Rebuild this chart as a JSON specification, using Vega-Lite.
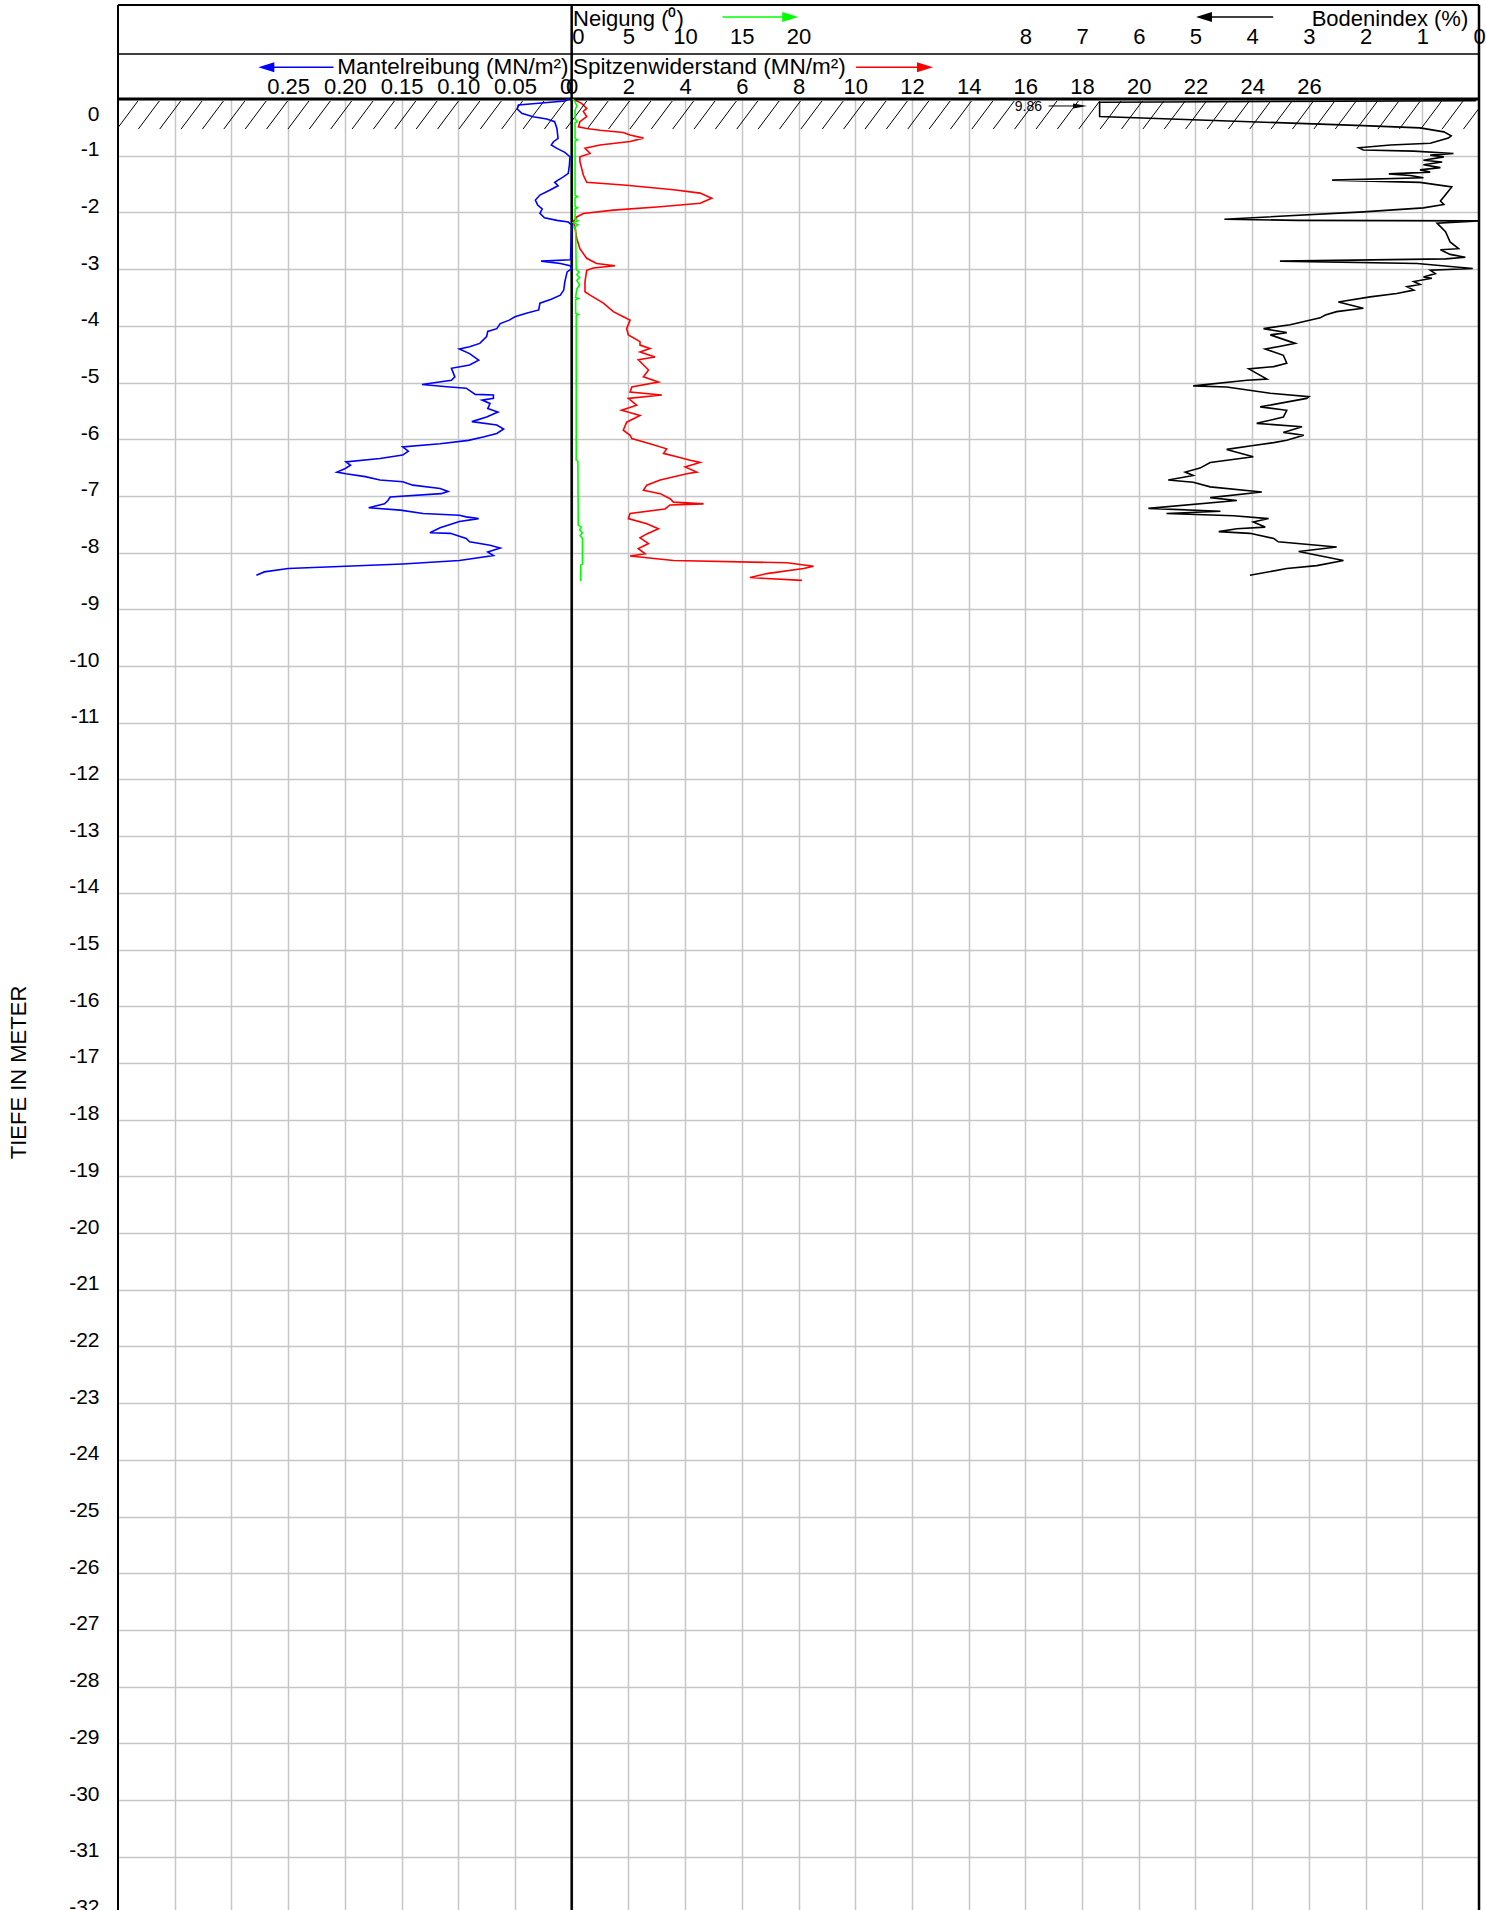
{
  "$schema": "https://vega.github.io/schema/vega-lite/v6.json",
  "width": 1361,
  "height": 1946,
  "autosize": {"type": "none"},
  "padding": {"left": 118, "top": 99, "right": 7, "bottom": 0},
  "background": "white",
  "config": {
    "font": "Liberation Sans",
    "view": {"stroke": null},
    "axis": {"labelFont": "Liberation Sans", "labelColor": "#000000", "titleFont": "Liberation Sans", "titleColor": "#000000", "domain": false, "ticks": false, "tickSize": 0, "labelFlush": false, "labelOverlap": false, "gridColor": "#c6c6c6", "gridWidth": 1.5, "gridOpacity": 1}
  },
  "datasets": {
    "one": [{}],
    "mantel": [
      {"d": 0, "m": 0.002}, {"d": -0.035, "m": 0.006}, {"d": -0.106, "m": 0.047}, {"d": -0.176, "m": 0.048}, {"d": -0.253, "m": 0.044}, {"d": -0.312, "m": 0.034}, {"d": -0.353, "m": 0.022}, {"d": -0.4, "m": 0.015}, {"d": -0.518, "m": 0.013}, {"d": -0.694, "m": 0.012}, {"d": -0.753, "m": 0.016}, {"d": -0.812, "m": 0.018}, {"d": -0.871, "m": 0.013}, {"d": -0.941, "m": 0.006}, {"d": -1.018, "m": 0.0015}, {"d": -1.165, "m": 0.002}, {"d": -1.312, "m": 0.003}, {"d": -1.37, "m": 0.007}, {"d": -1.43, "m": 0.012}, {"d": -1.47, "m": 0.015}, {"d": -1.53, "m": 0.012}, {"d": -1.606, "m": 0.019}, {"d": -1.694, "m": 0.028}, {"d": -1.782, "m": 0.032}, {"d": -1.87, "m": 0.03}, {"d": -1.94, "m": 0.026}, {"d": -2.018, "m": 0.028}, {"d": -2.094, "m": 0.024}, {"d": -2.14, "m": 0.013}, {"d": -2.17, "m": 0.003}, {"d": -2.22, "m": 0.0}, {"d": -2.58, "m": 0.0006}, {"d": -2.835, "m": 0.001}, {"d": -2.86, "m": 0.027}, {"d": -2.9, "m": 0.01}, {"d": -2.94, "m": 0.0015}, {"d": -2.99, "m": 0.0}, {"d": -3.05, "m": 0.004}, {"d": -3.22, "m": 0.006}, {"d": -3.37, "m": 0.007}, {"d": -3.46, "m": 0.01}, {"d": -3.53, "m": 0.018}, {"d": -3.6, "m": 0.028}, {"d": -3.72, "m": 0.029}, {"d": -3.78, "m": 0.04}, {"d": -3.84, "m": 0.05}, {"d": -3.9, "m": 0.055}, {"d": -3.96, "m": 0.063}, {"d": -4.05, "m": 0.066}, {"d": -4.1, "m": 0.074}, {"d": -4.19, "m": 0.075}, {"d": -4.31, "m": 0.081}, {"d": -4.37, "m": 0.09}, {"d": -4.41, "m": 0.099}, {"d": -4.49, "m": 0.09}, {"d": -4.605, "m": 0.082}, {"d": -4.69, "m": 0.09}, {"d": -4.75, "m": 0.106}, {"d": -4.9, "m": 0.103}, {"d": -4.96, "m": 0.106}, {"d": -5.035, "m": 0.132}, {"d": -5.075, "m": 0.11}, {"d": -5.1, "m": 0.093}, {"d": -5.21, "m": 0.085}, {"d": -5.22, "m": 0.069}, {"d": -5.28, "m": 0.069}, {"d": -5.31, "m": 0.079}, {"d": -5.37, "m": 0.072}, {"d": -5.46, "m": 0.074}, {"d": -5.52, "m": 0.065}, {"d": -5.61, "m": 0.075}, {"d": -5.69, "m": 0.088}, {"d": -5.75, "m": 0.066}, {"d": -5.82, "m": 0.06}, {"d": -5.9, "m": 0.066}, {"d": -5.96, "m": 0.078}, {"d": -6.02, "m": 0.091}, {"d": -6.08, "m": 0.116}, {"d": -6.135, "m": 0.149}, {"d": -6.21, "m": 0.144}, {"d": -6.28, "m": 0.149}, {"d": -6.34, "m": 0.169}, {"d": -6.4, "m": 0.199}, {"d": -6.46, "m": 0.195}, {"d": -6.52, "m": 0.2}, {"d": -6.58, "m": 0.207}, {"d": -6.61, "m": 0.199}, {"d": -6.66, "m": 0.182}, {"d": -6.72, "m": 0.169}, {"d": -6.75, "m": 0.149}, {"d": -6.81, "m": 0.14}, {"d": -6.87, "m": 0.116}, {"d": -6.92, "m": 0.109}, {"d": -6.96, "m": 0.115}, {"d": -7.02, "m": 0.16}, {"d": -7.08, "m": 0.162}, {"d": -7.14, "m": 0.165}, {"d": -7.21, "m": 0.179}, {"d": -7.25, "m": 0.151}, {"d": -7.31, "m": 0.131}, {"d": -7.34, "m": 0.099}, {"d": -7.37, "m": 0.093}, {"d": -7.4, "m": 0.082}, {"d": -7.45, "m": 0.099}, {"d": -7.56, "m": 0.116}, {"d": -7.65, "m": 0.125}, {"d": -7.66, "m": 0.107}, {"d": -7.75, "m": 0.093}, {"d": -7.81, "m": 0.09}, {"d": -7.87, "m": 0.072}, {"d": -7.92, "m": 0.063}, {"d": -7.99, "m": 0.074}, {"d": -8.05, "m": 0.069}, {"d": -8.14, "m": 0.099}, {"d": -8.2, "m": 0.149}, {"d": -8.28, "m": 0.25}, {"d": -8.34, "m": 0.271}, {"d": -8.4, "m": 0.278}
    ],
    "spitzen": [
      {"d": 0, "q": 0.1}, {"d": -0.02, "q": 0.12}, {"d": -0.076, "q": 0.35}, {"d": -0.165, "q": 0.53}, {"d": -0.22, "q": 0.41}, {"d": -0.31, "q": 0.53}, {"d": -0.4, "q": 0.29}, {"d": -0.49, "q": 0.24}, {"d": -0.52, "q": 0.53}, {"d": -0.55, "q": 1.0}, {"d": -0.59, "q": 1.82}, {"d": -0.635, "q": 2.06}, {"d": -0.69, "q": 2.53}, {"d": -0.75, "q": 2.06}, {"d": -0.81, "q": 1.0}, {"d": -0.87, "q": 0.47}, {"d": -0.96, "q": 0.65}, {"d": -1.02, "q": 0.29}, {"d": -1.1, "q": 0.29}, {"d": -1.22, "q": 0.35}, {"d": -1.34, "q": 0.41}, {"d": -1.47, "q": 0.53}, {"d": -1.52, "q": 1.94}, {"d": -1.6, "q": 3.59}, {"d": -1.66, "q": 4.53}, {"d": -1.75, "q": 4.94}, {"d": -1.84, "q": 4.53}, {"d": -1.9, "q": 3.12}, {"d": -1.96, "q": 1.47}, {"d": -2.02, "q": 0.41}, {"d": -2.08, "q": 0.18}, {"d": -2.16, "q": 0.06}, {"d": -2.28, "q": 0.12}, {"d": -2.46, "q": 0.18}, {"d": -2.64, "q": 0.29}, {"d": -2.81, "q": 0.53}, {"d": -2.9, "q": 0.88}, {"d": -2.94, "q": 1.53}, {"d": -2.98, "q": 0.76}, {"d": -3.02, "q": 0.53}, {"d": -3.22, "q": 0.47}, {"d": -3.4, "q": 0.47}, {"d": -3.46, "q": 0.65}, {"d": -3.6, "q": 1.12}, {"d": -3.75, "q": 1.47}, {"d": -3.84, "q": 1.82}, {"d": -3.9, "q": 2.06}, {"d": -4.05, "q": 1.94}, {"d": -4.16, "q": 2.0}, {"d": -4.28, "q": 2.41}, {"d": -4.34, "q": 2.41}, {"d": -4.4, "q": 2.76}, {"d": -4.46, "q": 2.41}, {"d": -4.55, "q": 2.94}, {"d": -4.6, "q": 2.35}, {"d": -4.78, "q": 2.71}, {"d": -4.9, "q": 2.53}, {"d": -4.99, "q": 3.06}, {"d": -5.08, "q": 2.12}, {"d": -5.17, "q": 2.06}, {"d": -5.22, "q": 3.18}, {"d": -5.28, "q": 2.0}, {"d": -5.4, "q": 2.29}, {"d": -5.49, "q": 1.76}, {"d": -5.58, "q": 2.41}, {"d": -5.7, "q": 1.94}, {"d": -5.84, "q": 1.82}, {"d": -5.93, "q": 2.06}, {"d": -5.99, "q": 2.12}, {"d": -6.08, "q": 2.76}, {"d": -6.17, "q": 3.35}, {"d": -6.25, "q": 3.24}, {"d": -6.31, "q": 3.71}, {"d": -6.37, "q": 4.18}, {"d": -6.41, "q": 4.53}, {"d": -6.49, "q": 4.0}, {"d": -6.58, "q": 4.41}, {"d": -6.61, "q": 4.06}, {"d": -6.72, "q": 3.12}, {"d": -6.81, "q": 2.65}, {"d": -6.9, "q": 2.53}, {"d": -6.96, "q": 3.12}, {"d": -7.05, "q": 3.47}, {"d": -7.11, "q": 3.59}, {"d": -7.14, "q": 4.65}, {"d": -7.16, "q": 3.47}, {"d": -7.23, "q": 3.29}, {"d": -7.31, "q": 2.06}, {"d": -7.4, "q": 2.0}, {"d": -7.49, "q": 2.65}, {"d": -7.58, "q": 3.06}, {"d": -7.67, "q": 2.65}, {"d": -7.74, "q": 2.41}, {"d": -7.84, "q": 2.71}, {"d": -7.93, "q": 2.35}, {"d": -8.02, "q": 2.59}, {"d": -8.06, "q": 2.06}, {"d": -8.14, "q": 3.59}, {"d": -8.18, "q": 7.59}, {"d": -8.24, "q": 8.53}, {"d": -8.28, "q": 8.18}, {"d": -8.37, "q": 6.88}, {"d": -8.44, "q": 6.29}, {"d": -8.49, "q": 8.12}
    ],
    "neigung": [
      {"d": 0, "n": 0.1}, {"d": -0.05, "n": 0.3}, {"d": -0.12, "n": 0.45}, {"d": -0.2, "n": 0.3}, {"d": -0.35, "n": 0.3}, {"d": -0.4, "n": 0.5}, {"d": -0.42, "n": 0.3}, {"d": -0.7, "n": 0.3}, {"d": -0.72, "n": 0.5}, {"d": -0.74, "n": 0.3}, {"d": -1.7, "n": 0.3}, {"d": -1.72, "n": 0.5}, {"d": -1.74, "n": 0.3}, {"d": -1.9, "n": 0.3}, {"d": -1.92, "n": 0.5}, {"d": -1.94, "n": 0.3}, {"d": -2.12, "n": 0.3}, {"d": -2.15, "n": 0.55}, {"d": -2.18, "n": 0.15}, {"d": -2.22, "n": 0.55}, {"d": -2.26, "n": 0.2}, {"d": -2.3, "n": 0.35}, {"d": -3.0, "n": 0.4}, {"d": -3.05, "n": 0.65}, {"d": -3.1, "n": 0.45}, {"d": -3.15, "n": 0.7}, {"d": -3.2, "n": 0.45}, {"d": -3.28, "n": 0.7}, {"d": -3.35, "n": 0.45}, {"d": -3.5, "n": 0.35}, {"d": -3.52, "n": 0.6}, {"d": -3.54, "n": 0.35}, {"d": -3.78, "n": 0.35}, {"d": -3.8, "n": 0.6}, {"d": -3.82, "n": 0.4}, {"d": -6.37, "n": 0.4}, {"d": -6.39, "n": 0.55}, {"d": -7.52, "n": 0.58}, {"d": -7.55, "n": 0.85}, {"d": -7.6, "n": 0.7}, {"d": -7.65, "n": 0.95}, {"d": -7.7, "n": 0.75}, {"d": -7.75, "n": 0.95}, {"d": -8.2, "n": 0.95}, {"d": -8.22, "n": 0.8}, {"d": -8.5, "n": 0.8}
    ],
    "boden": [
      {"d": -0.03, "b": 0.05}, {"d": -0.058, "b": 6.69}, {"d": -0.31, "b": 6.69}, {"d": -0.4, "b": 4.04}, {"d": -0.47, "b": 2.04}, {"d": -0.51, "b": 1.04}, {"d": -0.58, "b": 0.62}, {"d": -0.65, "b": 0.49}, {"d": -0.69, "b": 0.54}, {"d": -0.78, "b": 0.86}, {"d": -0.81, "b": 1.56}, {"d": -0.86, "b": 2.12}, {"d": -0.9, "b": 2.04}, {"d": -0.92, "b": 1.15}, {"d": -0.96, "b": 0.45}, {"d": -0.99, "b": 0.86}, {"d": -1.02, "b": 0.62}, {"d": -1.08, "b": 0.98}, {"d": -1.11, "b": 0.65}, {"d": -1.16, "b": 0.98}, {"d": -1.21, "b": 0.68}, {"d": -1.25, "b": 1.04}, {"d": -1.29, "b": 0.86}, {"d": -1.32, "b": 1.59}, {"d": -1.35, "b": 1.21}, {"d": -1.39, "b": 0.98}, {"d": -1.43, "b": 2.59}, {"d": -1.47, "b": 1.04}, {"d": -1.55, "b": 0.48}, {"d": -1.69, "b": 0.59}, {"d": -1.8, "b": 0.68}, {"d": -1.86, "b": 0.62}, {"d": -1.92, "b": 0.98}, {"d": -1.99, "b": 2.04}, {"d": -2.12, "b": 4.49}, {"d": -2.14, "b": 3.21}, {"d": -2.15, "b": 0.0}, {"d": -2.19, "b": 0.74}, {"d": -2.34, "b": 0.59}, {"d": -2.52, "b": 0.51}, {"d": -2.64, "b": 0.36}, {"d": -2.66, "b": 0.68}, {"d": -2.74, "b": 0.51}, {"d": -2.79, "b": 0.24}, {"d": -2.82, "b": 0.59}, {"d": -2.86, "b": 3.51}, {"d": -2.9, "b": 1.09}, {"d": -2.99, "b": 0.11}, {"d": -3.02, "b": 0.86}, {"d": -3.08, "b": 0.77}, {"d": -3.14, "b": 0.98}, {"d": -3.16, "b": 0.83}, {"d": -3.22, "b": 1.15}, {"d": -3.27, "b": 1.04}, {"d": -3.31, "b": 1.27}, {"d": -3.37, "b": 1.15}, {"d": -3.43, "b": 1.45}, {"d": -3.49, "b": 1.92}, {"d": -3.58, "b": 2.48}, {"d": -3.69, "b": 2.04}, {"d": -3.75, "b": 2.51}, {"d": -3.81, "b": 2.71}, {"d": -3.86, "b": 2.8}, {"d": -3.98, "b": 3.33}, {"d": -4.05, "b": 3.8}, {"d": -4.12, "b": 3.39}, {"d": -4.16, "b": 3.68}, {"d": -4.31, "b": 3.24}, {"d": -4.36, "b": 3.5}, {"d": -4.41, "b": 3.77}, {"d": -4.52, "b": 3.45}, {"d": -4.66, "b": 3.39}, {"d": -4.72, "b": 3.62}, {"d": -4.76, "b": 4.06}, {"d": -4.94, "b": 3.74}, {"d": -4.96, "b": 4.09}, {"d": -5.06, "b": 5.04}, {"d": -5.08, "b": 4.45}, {"d": -5.19, "b": 3.68}, {"d": -5.25, "b": 3.0}, {"d": -5.28, "b": 3.04}, {"d": -5.43, "b": 3.86}, {"d": -5.49, "b": 3.39}, {"d": -5.61, "b": 3.45}, {"d": -5.72, "b": 3.92}, {"d": -5.78, "b": 3.12}, {"d": -5.88, "b": 3.45}, {"d": -5.93, "b": 3.09}, {"d": -6.02, "b": 3.39}, {"d": -6.06, "b": 3.62}, {"d": -6.11, "b": 3.98}, {"d": -6.18, "b": 4.45}, {"d": -6.31, "b": 3.98}, {"d": -6.41, "b": 4.74}, {"d": -6.51, "b": 4.92}, {"d": -6.58, "b": 5.18}, {"d": -6.64, "b": 5.04}, {"d": -6.72, "b": 5.48}, {"d": -6.76, "b": 5.04}, {"d": -6.84, "b": 4.74}, {"d": -6.93, "b": 3.83}, {"d": -7.03, "b": 4.74}, {"d": -7.08, "b": 4.27}, {"d": -7.22, "b": 5.83}, {"d": -7.27, "b": 4.56}, {"d": -7.31, "b": 5.51}, {"d": -7.35, "b": 4.33}, {"d": -7.4, "b": 3.71}, {"d": -7.46, "b": 3.98}, {"d": -7.55, "b": 3.77}, {"d": -7.58, "b": 4.27}, {"d": -7.63, "b": 4.59}, {"d": -7.66, "b": 4.04}, {"d": -7.75, "b": 3.62}, {"d": -7.81, "b": 3.54}, {"d": -7.9, "b": 2.51}, {"d": -7.98, "b": 3.18}, {"d": -8.05, "b": 2.83}, {"d": -8.14, "b": 2.39}, {"d": -8.23, "b": 2.86}, {"d": -8.28, "b": 3.39}, {"d": -8.4, "b": 4.04}
    ],
    "hatch": [
      {"a": -16.037, "b": -15.297}, {"a": -15.283, "b": -14.543}, {"a": -14.529, "b": -13.789}, {"a": -13.775, "b": -13.035}, {"a": -13.022, "b": -12.282}, {"a": -12.268, "b": -11.528}, {"a": -11.514, "b": -10.774}, {"a": -10.76, "b": -10.02}, {"a": -10.006, "b": -9.266}, {"a": -9.253, "b": -8.513}, {"a": -8.499, "b": -7.759}, {"a": -7.745, "b": -7.005}, {"a": -6.991, "b": -6.251}, {"a": -6.237, "b": -5.497}, {"a": -5.484, "b": -4.744}, {"a": -4.73, "b": -3.99}, {"a": -3.976, "b": -3.236}, {"a": -3.222, "b": -2.482}, {"a": -2.468, "b": -1.728}, {"a": -1.715, "b": -0.975}, {"a": -0.961, "b": -0.221}, {"a": -0.207, "b": 0.533}, {"a": 0.547, "b": 1.287}, {"a": 1.301, "b": 2.041}, {"a": 2.054, "b": 2.794}, {"a": 2.808, "b": 3.548}, {"a": 3.562, "b": 4.302}, {"a": 4.316, "b": 5.056}, {"a": 5.07, "b": 5.81}, {"a": 5.823, "b": 6.563}, {"a": 6.577, "b": 7.317}, {"a": 7.331, "b": 8.071}, {"a": 8.085, "b": 8.825}, {"a": 8.839, "b": 9.579}, {"a": 9.592, "b": 10.332}, {"a": 10.346, "b": 11.086}, {"a": 11.1, "b": 11.84}, {"a": 11.854, "b": 12.594}, {"a": 12.608, "b": 13.348}, {"a": 13.361, "b": 14.101}, {"a": 14.115, "b": 14.855}, {"a": 14.869, "b": 15.609}, {"a": 15.623, "b": 16.363}, {"a": 16.377, "b": 17.117}, {"a": 17.13, "b": 17.87}, {"a": 17.884, "b": 18.624}, {"a": 18.638, "b": 19.378}, {"a": 19.392, "b": 20.132}, {"a": 20.146, "b": 20.886}, {"a": 20.899, "b": 21.639}, {"a": 21.653, "b": 22.393}, {"a": 22.407, "b": 23.147}, {"a": 23.161, "b": 23.901}, {"a": 23.915, "b": 24.655}, {"a": 24.668, "b": 25.408}, {"a": 25.422, "b": 26.162}, {"a": 26.176, "b": 26.916}, {"a": 26.93, "b": 27.67}, {"a": 27.684, "b": 28.424}, {"a": 28.437, "b": 29.177}, {"a": 29.191, "b": 29.931}, {"a": 29.945, "b": 30.685}, {"a": 30.699, "b": 31.439}, {"a": 31.453, "b": 32.193}
    ]
  },
  "resolve": {"scale": {"x": "independent"}, "axis": {"x": "independent"}},
  "layer": [
    {
      "data": {"name": "spitzen"},
      "mark": {"type": "line", "stroke": "#ff0000", "strokeWidth": 1.6},
      "encoding": {
        "x": {"field": "q", "type": "quantitative", "scale": {"domain": [-16, 32], "nice": false, "zero": false},
          "axis": {"orient": "top", "values": [-14, -12, -10, -8, -6, -4, -2, 0, 2, 4, 6, 8, 10, 12, 14, 16, 18, 20, 22, 24, 26, 28, 30], "grid": true, "labelExpr": "datum.value >= 0 && datum.value <= 26 ? '' + datum.value : ''", "labelFontSize": 22, "labelPadding": 6, "labelBaseline": "alphabetic", "labelAlign": "center", "title": null}},
        "y": {"field": "d", "type": "quantitative", "scale": {"domain": [-34.32, 0], "nice": false, "zero": false},
          "axis": {"values": [0, -1, -2, -3, -4, -5, -6, -7, -8, -9, -10, -11, -12, -13, -14, -15, -16, -17, -18, -19, -20, -21, -22, -23, -24, -25, -26, -27, -28, -29, -30, -31, -32, -33, -34], "grid": true, "labelExpr": "'' + datum.value", "labelFontSize": 21, "labelPadding": 19, "labelAlign": "right", "labelBaseline": "alphabetic", "labelOffset": {"condition": {"test": "datum.value === 0", "value": 21}, "value": 0}, "title": "TIEFE IN METER", "titleFontSize": 22, "titleFontWeight": "normal", "titleX": -100, "titleBaseline": "middle", "titleAlign": "center"}},
        "order": {"value": null}
      }
    },
    {
      "data": {"name": "hatch"},
      "mark": {"type": "rule", "stroke": "#000000", "strokeWidth": 1, "clip": true},
      "encoding": {
        "x": {"field": "a", "type": "quantitative", "scale": {"domain": [-16, 32], "nice": false, "zero": false}, "axis": null},
        "x2": {"field": "b"},
        "y": {"datum": -0.53, "type": "quantitative"},
        "y2": {"datum": -0.035}
      }
    },
    {
      "data": {"name": "one"},
      "mark": {"type": "rule", "stroke": "#000000", "strokeWidth": 2},
      "encoding": {
        "x": {"datum": -16, "type": "quantitative", "scale": {"domain": [-16, 32], "nice": false, "zero": false}, "axis": null},
        "x2": {"datum": 32},
        "y": {"datum": 1.66, "type": "quantitative"}
      }
    },
    {
      "data": {"name": "one"},
      "mark": {"type": "rule", "stroke": "#000000", "strokeWidth": 1.5},
      "encoding": {
        "x": {"datum": -16, "type": "quantitative", "scale": {"domain": [-16, 32], "nice": false, "zero": false}, "axis": null},
        "x2": {"datum": 32},
        "y": {"datum": 0.794, "type": "quantitative"}
      }
    },
    {
      "data": {"name": "one"},
      "mark": {"type": "rule", "stroke": "#000000", "strokeWidth": 2},
      "encoding": {
        "x": {"datum": -16, "type": "quantitative", "scale": {"domain": [-16, 32], "nice": false, "zero": false}, "axis": null},
        "y": {"datum": 1.66, "type": "quantitative"},
        "y2": {"datum": -34.32}
      }
    },
    {
      "data": {"name": "one"},
      "mark": {"type": "rule", "stroke": "#000000", "strokeWidth": 2.5},
      "encoding": {
        "x": {"datum": 32, "type": "quantitative", "scale": {"domain": [-16, 32], "nice": false, "zero": false}, "axis": null},
        "y": {"datum": 1.66, "type": "quantitative"},
        "y2": {"datum": -34.32}
      }
    },
    {
      "data": {"name": "one"},
      "mark": {"type": "rule", "stroke": "#000000", "strokeWidth": 2.5},
      "encoding": {
        "x": {"datum": 0, "type": "quantitative", "scale": {"domain": [-16, 32], "nice": false, "zero": false}, "axis": null},
        "y": {"datum": 1.66, "type": "quantitative"},
        "y2": {"datum": -34.32}
      }
    },
    {
      "data": {"name": "one"},
      "mark": {"type": "rule", "stroke": "#000000", "strokeWidth": 3},
      "encoding": {
        "x": {"datum": -16, "type": "quantitative", "scale": {"domain": [-16, 32], "nice": false, "zero": false}, "axis": null},
        "x2": {"datum": 32},
        "y": {"datum": 0, "type": "quantitative"}
      }
    },
    {
      "data": {"name": "one"},
      "mark": {"type": "text", "text": "Neigung (⁰)", "align": "left", "baseline": "alphabetic", "fontSize": 22, "font": "Liberation Sans", "color": "#000000"},
      "encoding": {
        "x": {"datum": 0.05, "type": "quantitative", "scale": {"domain": [-16, 32], "nice": false, "zero": false}, "axis": null},
        "y": {"datum": 1.279, "type": "quantitative"}
      }
    },
    {
      "data": {"name": "one"},
      "mark": {"type": "text", "text": "Bodenindex (%)", "align": "right", "baseline": "alphabetic", "fontSize": 22, "font": "Liberation Sans", "color": "#000000"},
      "encoding": {
        "x": {"datum": 31.62, "type": "quantitative", "scale": {"domain": [-16, 32], "nice": false, "zero": false}, "axis": null},
        "y": {"datum": 1.279, "type": "quantitative"}
      }
    },
    {
      "data": {"name": "one"},
      "mark": {"type": "text", "text": "Mantelreibung (MN/m²)", "align": "right", "baseline": "alphabetic", "fontSize": 22.5, "font": "Liberation Sans", "color": "#000000"},
      "encoding": {
        "x": {"datum": -0.11, "type": "quantitative", "scale": {"domain": [-16, 32], "nice": false, "zero": false}, "axis": null},
        "y": {"datum": 0.441, "type": "quantitative"}
      }
    },
    {
      "data": {"name": "one"},
      "mark": {"type": "text", "text": "Spitzenwiderstand (MN/m²)", "align": "left", "baseline": "alphabetic", "fontSize": 22.5, "font": "Liberation Sans", "color": "#000000"},
      "encoding": {
        "x": {"datum": 0.05, "type": "quantitative", "scale": {"domain": [-16, 32], "nice": false, "zero": false}, "axis": null},
        "y": {"datum": 0.441, "type": "quantitative"}
      }
    },
    {
      "data": {"name": "one"},
      "mark": {"type": "text", "text": "9.86", "align": "right", "baseline": "alphabetic", "fontSize": 14, "font": "Liberation Sans", "color": "#000000"},
      "encoding": {
        "x": {"datum": 16.59, "type": "quantitative", "scale": {"domain": [-16, 32], "nice": false, "zero": false}, "axis": null},
        "y": {"datum": -0.21, "type": "quantitative"}
      }
    },
    {
      "data": {"name": "one"},
      "mark": {"type": "rule", "stroke": "#00ff00", "strokeWidth": 1.5},
      "encoding": {
        "x": {"datum": 5.32, "type": "quantitative", "scale": {"domain": [-16, 32], "nice": false, "zero": false}, "axis": null},
        "x2": {"datum": 7.71},
        "y": {"datum": 1.446, "type": "quantitative"}
      }
    },
    {
      "data": {"name": "one"},
      "mark": {"type": "point", "shape": "M-1,-0.63L1,0L-1,0.63Z", "filled": true, "color": "#00ff00", "opacity": 1, "size": 256, "strokeWidth": 0},
      "encoding": {
        "x": {"datum": 7.71, "type": "quantitative", "scale": {"domain": [-16, 32], "nice": false, "zero": false}, "axis": null},
        "y": {"datum": 1.446, "type": "quantitative"}
      }
    },
    {
      "data": {"name": "one"},
      "mark": {"type": "rule", "stroke": "#000000", "strokeWidth": 1.5},
      "encoding": {
        "x": {"datum": 22.3, "type": "quantitative", "scale": {"domain": [-16, 32], "nice": false, "zero": false}, "axis": null},
        "x2": {"datum": 24.74},
        "y": {"datum": 1.446, "type": "quantitative"}
      }
    },
    {
      "data": {"name": "one"},
      "mark": {"type": "point", "shape": "M1,-0.63L-1,0L1,0.63Z", "filled": true, "color": "#000000", "opacity": 1, "size": 256, "strokeWidth": 0},
      "encoding": {
        "x": {"datum": 22.3, "type": "quantitative", "scale": {"domain": [-16, 32], "nice": false, "zero": false}, "axis": null},
        "y": {"datum": 1.446, "type": "quantitative"}
      }
    },
    {
      "data": {"name": "one"},
      "mark": {"type": "rule", "stroke": "#0000ff", "strokeWidth": 1.5},
      "encoding": {
        "x": {"datum": -10.77, "type": "quantitative", "scale": {"domain": [-16, 32], "nice": false, "zero": false}, "axis": null},
        "x2": {"datum": -8.4},
        "y": {"datum": 0.56, "type": "quantitative"}
      }
    },
    {
      "data": {"name": "one"},
      "mark": {"type": "point", "shape": "M1,-0.63L-1,0L1,0.63Z", "filled": true, "color": "#0000ff", "opacity": 1, "size": 256, "strokeWidth": 0},
      "encoding": {
        "x": {"datum": -10.77, "type": "quantitative", "scale": {"domain": [-16, 32], "nice": false, "zero": false}, "axis": null},
        "y": {"datum": 0.56, "type": "quantitative"}
      }
    },
    {
      "data": {"name": "one"},
      "mark": {"type": "rule", "stroke": "#ff0000", "strokeWidth": 1.5},
      "encoding": {
        "x": {"datum": 10.03, "type": "quantitative", "scale": {"domain": [-16, 32], "nice": false, "zero": false}, "axis": null},
        "x2": {"datum": 12.46},
        "y": {"datum": 0.56, "type": "quantitative"}
      }
    },
    {
      "data": {"name": "one"},
      "mark": {"type": "point", "shape": "M-1,-0.63L1,0L-1,0.63Z", "filled": true, "color": "#ff0000", "opacity": 1, "size": 256, "strokeWidth": 0},
      "encoding": {
        "x": {"datum": 12.46, "type": "quantitative", "scale": {"domain": [-16, 32], "nice": false, "zero": false}, "axis": null},
        "y": {"datum": 0.56, "type": "quantitative"}
      }
    },
    {
      "data": {"name": "one"},
      "mark": {"type": "rule", "stroke": "#000000", "strokeWidth": 1},
      "encoding": {
        "x": {"datum": 16.82, "type": "quantitative", "scale": {"domain": [-16, 32], "nice": false, "zero": false}, "axis": null},
        "x2": {"datum": 17.93},
        "y": {"datum": -0.123, "type": "quantitative"}
      }
    },
    {
      "data": {"name": "one"},
      "mark": {"type": "point", "shape": "M-1,-0.35L1,0L-1,0.35Z", "filled": true, "color": "#000000", "opacity": 1, "size": 196, "strokeWidth": 0},
      "encoding": {
        "x": {"datum": 17.93, "type": "quantitative", "scale": {"domain": [-16, 32], "nice": false, "zero": false}, "axis": null},
        "y": {"datum": -0.123, "type": "quantitative"}
      }
    },
    {
      "data": {"name": "mantel"},
      "mark": {"type": "line", "stroke": "#0000ff", "strokeWidth": 1.6},
      "encoding": {
        "x": {"field": "m", "type": "quantitative", "scale": {"domain": [-0.8, 0.4], "reverse": true, "nice": false, "zero": false},
          "axis": {"orient": "top", "values": [0, 0.05, 0.1, 0.15, 0.2, 0.25], "grid": false, "labelExpr": "datum.value === 0 ? '0' : format(datum.value, '.2f')", "labelFontSize": 22, "labelPadding": 6, "labelBaseline": "alphabetic", "labelAlign": {"condition": {"test": "datum.value === 0", "value": "right"}, "value": "center"}, "title": null}},
        "y": {"field": "d", "type": "quantitative"},
        "order": {"value": null}
      }
    },
    {
      "data": {"name": "neigung"},
      "mark": {"type": "line", "stroke": "#00ff00", "strokeWidth": 1.6},
      "encoding": {
        "x": {"field": "n", "type": "quantitative", "scale": {"domain": [-40, 80], "nice": false, "zero": false},
          "axis": {"orient": "top", "values": [0, 5, 10, 15, 20], "grid": false, "labelFontSize": 22, "labelPadding": 56, "labelBaseline": "alphabetic", "labelAlign": {"condition": {"test": "datum.value === 0", "value": "left"}, "value": "center"}, "title": null}},
        "y": {"field": "d", "type": "quantitative"},
        "order": {"value": null}
      }
    },
    {
      "data": {"name": "boden"},
      "mark": {"type": "line", "stroke": "#000000", "strokeWidth": 1.6},
      "encoding": {
        "x": {"field": "b", "type": "quantitative", "scale": {"domain": [0, 24], "reverse": true, "nice": false, "zero": false},
          "axis": {"orient": "top", "values": [0, 1, 2, 3, 4, 5, 6, 7, 8], "grid": false, "labelFontSize": 22, "labelPadding": 56, "labelBaseline": "alphabetic", "labelAlign": "center", "title": null}},
        "y": {"field": "d", "type": "quantitative"},
        "order": {"value": null}
      }
    }
  ]
}
